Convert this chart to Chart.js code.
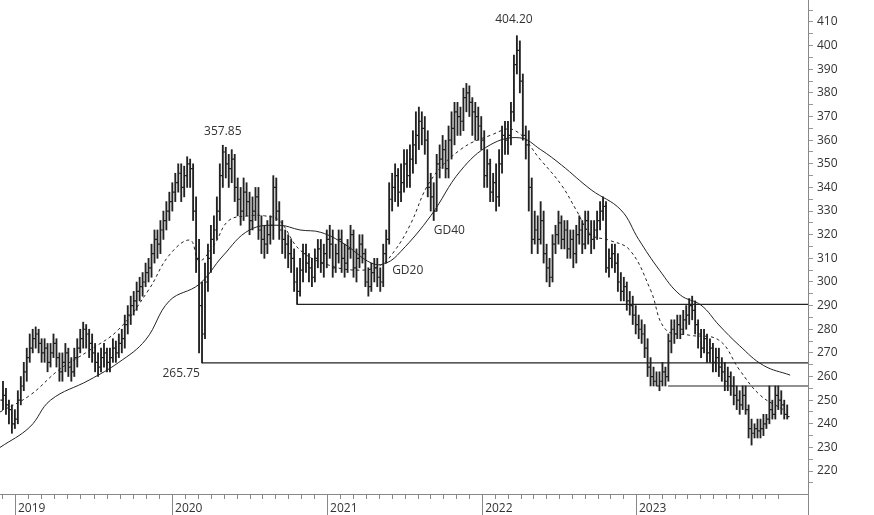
<!DOCTYPE html>
<html><head><meta charset="utf-8">
<script src="https://cdn.jsdelivr.net/npm/chart.js@4"></script>
<style>html,body{margin:0;padding:0;background:#fff}#w{width:874px;height:515px}</style>
</head><body><div id="w"><canvas id="c"></canvas></div>
<script>
const closeV=[252,248,246,240,242,250,256,262,268,272,276,278,274,270,272,266,270,274,268,262,266,270,264,262,268,272,276,280,278,274,270,266,264,268,270,266,268,272,270,274,276,282,286,290,292,296,298,300,304,306,312,318,316,322,326,330,334,338,342,346,340,345,350,348,330,310,290,278,300,310,318,322,330,345,355,350,348,352,340,335,330,338,334,326,330,336,322,318,316,320,324,340,330,322,318,316,312,310,300,296,305,312,308,306,302,310,314,308,312,318,316,306,312,318,310,308,314,320,306,310,316,312,300,298,304,306,302,300,312,318,335,340,345,338,342,350,345,352,358,362,368,365,360,340,336,330,350,352,356,348,360,365,372,370,368,378,380,376,372,370,366,360,345,350,338,342,336,350,362,360,362,372,392,398,385,362,358,340,318,322,318,326,312,306,302,316,320,325,318,322,314,318,312,320,322,316,326,320,318,322,326,330,332,306,310,312,308,300,296,298,292,290,286,282,280,278,272,264,260,258,256,258,262,260,275,280,278,282,280,284,286,290,288,282,278,272,276,270,272,266,268,264,262,258,260,256,252,250,248,252,246,238,236,238,237,238,240,242,246,244,252,250,248,244,243];
const openV=[250,252,248,246,240,242,250,256,262,268,272,276,278,274,270,272,266,270,274,268,262,266,270,264,262,268,272,276,280,278,274,270,266,264,268,270,266,268,272,270,274,276,282,286,290,292,296,298,300,304,306,312,318,316,322,326,330,334,338,342,346,340,345,350,348,330,310,290,278,300,310,318,322,330,345,355,350,348,352,340,335,330,338,334,326,330,336,322,318,316,320,324,340,330,322,318,316,312,310,300,296,305,312,308,306,302,310,314,308,312,318,316,306,312,318,310,308,314,320,306,310,316,312,300,298,304,306,302,300,312,318,335,340,345,338,342,350,345,352,358,362,368,365,360,340,336,330,350,352,356,348,360,365,372,370,368,378,380,376,372,370,366,360,345,350,338,342,336,350,362,360,362,372,392,398,385,362,358,340,318,322,318,326,312,306,302,316,320,325,318,322,314,318,312,320,322,316,326,320,318,322,326,330,332,306,310,312,308,300,296,298,292,290,286,282,280,278,272,264,260,258,256,258,262,260,275,280,278,282,280,284,286,290,288,282,278,272,276,270,272,266,268,264,262,258,260,256,252,250,248,252,246,238,236,238,237,238,240,242,246,244,252,250,248,244];
const highV=[258,255,250,248,246,254,260,266,272,278,280,281,280,276,276,274,274,278,276,270,270,274,272,268,272,276,280,283,282,280,278,274,270,272,274,272,272,276,275,278,280,286,290,294,296,300,302,304,308,310,316,322,322,326,330,334,338,342,346,350,350,349,353,352,350,336,318,300,308,316,324,328,336,350,357.85,357,354,356,354,344,340,344,342,338,336,340,340,328,324,326,328,345,344,334,326,322,320,318,314,306,310,316,316,312,310,314,318,318,316,322,324,322,316,322,322,316,318,324,322,314,320,320,314,306,308,310,310,306,316,322,342,346,350,348,350,356,356,358,364,372,374,372,370,364,346,342,354,358,362,360,366,372,376,376,374,382,384,383,378,376,374,370,364,356,352,346,350,356,366,368,368,376,396,404.2,402,388,366,364,344,330,328,334,330,316,310,320,324,330,328,326,326,322,322,324,328,326,330,330,326,326,330,334,336,334,314,316,316,312,304,302,300,296,294,290,286,284,282,276,268,264,262,262,266,264,278,284,284,286,286,288,290,293,294,292,284,280,280,278,276,274,272,272,268,266,264,262,260,256,254,256,256,248,242,240,242,242,244,244,256,250,256,256,254,250,248];
const lowV=[246,244,240,236,238,240,248,254,258,266,270,272,270,266,266,262,264,268,264,258,258,262,260,258,260,264,270,272,272,268,266,262,260,262,264,262,262,266,266,268,270,272,278,282,286,288,292,294,298,300,302,308,310,312,318,322,326,330,334,338,334,336,340,340,326,304,270,265.75,276,296,304,312,318,326,340,344,340,342,334,328,324,326,328,320,322,326,318,312,310,312,316,318,326,318,312,310,306,304,296,290.5,294,300,304,300,298,300,306,304,302,306,310,302,304,308,304,302,304,310,302,300,306,308,298,294,296,300,298,296,298,308,316,330,334,332,334,338,340,340,346,350,356,358,354,336,330,326,330,344,348,344,344,352,358,362,362,364,372,370,362,360,360,356,340,340,334,334,330,332,346,354,354,358,368,388,380,360,352,330,312,316,312,316,308,300,298,300,312,316,314,314,310,310,306,308,316,312,314,316,312,314,318,322,326,304,302,306,304,296,292,292,288,286,282,278,276,274,268,260,256,256,256,254,256,256,258,270,274,276,276,278,280,282,284,278,272,268,270,266,266,262,262,260,258,254,254,252,248,246,244,246,244,234,231,234,234,234,235,238,240,242,242,246,244,242,242];
const gd40Week=[-1,9,16,29,39,48,56,66,74,83,93,100,107,115,124,129,134,144,154,164,174,181,188,198,208,214,221,228,235,241,248,256,265];
const gd40Val=[230,238.6,250,258.5,266,275.5,292,299,311,322,324,322,321,316,308,308,313,328,347,358,361,356,349.5,339,330.5,318,305,294.5,290.2,281.8,273,264.7,260.6];
const gd20Week=[-1,9,19,29,39,49,56,63,66,71,76,83,88,93,100,110,120,127,132,137,144,154,164,172,181,188,193,198,204,211,218,223,231,241,248,255,263];
const gd20Val=[245,252,263,271,280,296.6,311.4,317.7,309,315.6,326,328,328,326,313.5,307,305,307,313.5,324,343,356,362,364.3,351.6,341,330.4,320,317.7,313.5,296.6,280,277.5,275.4,262.7,252,245.8];
const yearLabels=['2019','2020','2021','2022','2023'];
const yearStartWeek=[4.04,56.9,109.1,161.3,213.1];
const levels=[{v:290.5,from:99},{v:265.75,from:67},{v:256,from:223.9}];
const annotations=[{t:'357.85',w:74,v:357.85,dy:-10},{t:'265.75',w:60,v:265.75,dy:6},{t:'404.20',w:172,v:404.2,dy:-13}];

const weeks=closeV.map((_,i)=>i);
const XMIN=-1.01,XMAX=271;
const ds=[];
ds.push({type:'bar',data:weeks.map(i=>({x:i,y:[lowV[i],highV[i]]})),backgroundColor:'#222',barThickness:1.2,borderWidth:0,grouped:false});
ds.push({type:'line',data:gd20Week.map((w,k)=>({x:w,y:gd20Val[k]})),borderColor:'#222',borderWidth:1,borderDash:[3,3],pointRadius:0,tension:0.4});
ds.push({type:'line',data:gd40Week.map((w,k)=>({x:w,y:gd40Val[k]})),borderColor:'#222',borderWidth:1,pointRadius:0,tension:0.4});
levels.forEach(l=>ds.push({type:'line',data:[{x:l.from,y:l.v},{x:XMAX,y:l.v}],borderColor:'#222',borderWidth:1.2,pointRadius:0}));

const ohlcTicks={id:'ohlc',afterDatasetsDraw(ch){
 const c=ch.ctx,xs=ch.scales.x,ys=ch.scales.y;
 c.save();c.strokeStyle='#222';c.lineWidth=1.2;c.beginPath();
 weeks.forEach(i=>{const px=Math.round(xs.getPixelForValue(i));
  const yo=ys.getPixelForValue(openV[i]),yc=ys.getPixelForValue(closeV[i]);
  c.moveTo(px-2.5,yo);c.lineTo(px,yo);c.moveTo(px,yc);c.lineTo(px+2.5,yc);});
 c.stroke();
 c.font='12px "Open Sans"';c.fillStyle='#333';c.textAlign='center';
 annotations.forEach(a=>{c.fillText(a.t,xs.getPixelForValue(a.w),ys.getPixelForValue(a.v)+a.dy+(a.dy>0?8:0));});
 c.textAlign='left';
 c.fillText('GD40',xs.getPixelForValue(145),ys.getPixelForValue(322)+4);
 c.fillText('GD20',xs.getPixelForValue(131),ys.getPixelForValue(305)+4);
 const b=ch.chartArea.bottom,r=ch.chartArea.right;
 c.strokeStyle='#888';c.lineWidth=1;c.beginPath();c.moveTo(0,b+0.5);c.lineTo(r,b+0.5);
 c.moveTo(r+0.5,0);c.lineTo(r+0.5,515);
 yearStartWeek.forEach((w,k)=>{const per=(k<4?yearStartWeek[k+1]-w:52);
  for(let m=0;m<12;m++){const px=Math.round(xs.getPixelForValue(w+per*m/12))+0.5;if(px>r)continue;c.moveTo(px,b);c.lineTo(px,b+(m==0?21:5));}
  if(k==0){for(let m=1;m<=2;m++){const px=Math.round(xs.getPixelForValue(w-per*m/12))+0.5;if(px>0){c.moveTo(px,b);c.lineTo(px,b+5);}}}
 });
 c.stroke();
 c.fillStyle='#333';c.font='12px "Open Sans"';
 yearStartWeek.forEach((w,k)=>c.fillText(yearLabels[k],xs.getPixelForValue(w)+3,b+18));
 c.restore();}};

new Chart(document.getElementById('c'),{data:{datasets:ds},plugins:[ohlcTicks],
options:{responsive:true,maintainAspectRatio:false,animation:false,
 layout:{padding:{top:0,bottom:21,left:0,right:0}},
 plugins:{legend:{display:false},tooltip:{enabled:false}},
 scales:{x:{type:'linear',min:XMIN,max:XMAX,display:false,offset:false},
  y:{position:'right',min:210.3,max:419.3,
   afterFit(s){s.width=66;s.paddingTop=0;s.paddingBottom=0;},
   afterBuildTicks(s){const t=[];for(let v=215;v<=415;v+=5)t.push({value:v});s.ticks=t;},
   grid:{display:true,drawOnChartArea:false,drawTicks:true,tickLength:5,color:'#999'},border:{display:false},
   ticks:{color:'#333',font:{family:'Open Sans',size:12},padding:4,autoSkip:false,callback:v=>v%10===0?String(v):''}}}}});
</script></body></html>
